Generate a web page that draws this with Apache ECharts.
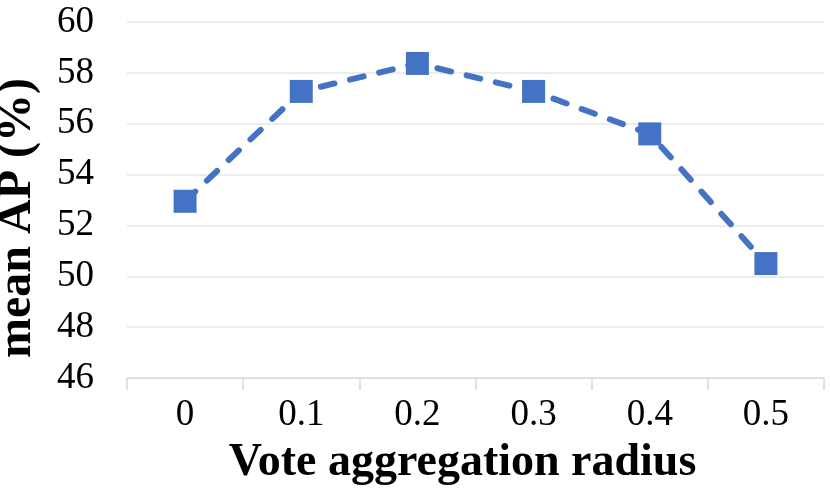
<!DOCTYPE html>
<html>
<head>
<meta charset="utf-8">
<script src="https://cdn.jsdelivr.net/npm/echarts@6/dist/echarts.min.js"></script>
<style>
  html, body { margin: 0; padding: 0; background: #fff; }
  #main { width: 830px; height: 495px; }
</style>
</head>
<body>
<div id="main"></div>
<script>
var myChart = echarts.init(document.getElementById('main'));

let radius = ["0", "0.1", "0.2", "0.3", "0.4", "0.5"];
let meanAP = [52.95, 57.27, 58.37, 57.27, 55.6, 50.5];
let yMin = 46;
let yMax = 60;
let yStep = 2;

let font = "'Liberation Serif', 'Times New Roman', serif";

option = {
	animation: false,
	grid: {
		left: 127,
		right: 6,
		top: 22,
		bottom: 117,
		outerBoundsMode: "none"
	},
	xAxis: {
		type: "category",
		data: radius,
		boundaryGap: true,
		name: "Vote aggregation radius",
		nameLocation: "middle",
		nameGap: 62,
		nameTextStyle: {
			fontFamily: font,
			fontSize: 46,
			fontWeight: "bold",
			color: "#000",
			padding: [0, 26, 0, 0]
		},
		axisLine: {
			lineStyle: { color: "#D9D9D9", width: 1.5 }
		},
		axisTick: {
			show: true,
			length: 12,
			lineStyle: { color: "#D9D9D9", width: 1.5 }
		},
		axisLabel: {
			fontFamily: font,
			fontSize: 37,
			color: "#000",
			margin: 19
		}
	},
	yAxis: {
		type: "value",
		min: yMin,
		max: yMax,
		interval: yStep,
		name: "mean AP (%)",
		nameLocation: "middle",
		nameGap: 85,
		nameTextStyle: {
			fontFamily: font,
			fontSize: 48,
			fontWeight: "bold",
			color: "#000",
			padding: [0, 36, 0, 0]
		},
		axisLine: { show: false },
		axisTick: { show: false },
		axisLabel: {
			fontFamily: font,
			fontSize: 37,
			color: "#000",
			margin: 33
		},
		splitLine: {
			lineStyle: { color: "#E6E6E6", width: 1.5 }
		}
	},
	series: [{
		type: "line",
		data: meanAP,
		symbol: "rect",
		symbolSize: 23,
		itemStyle: { color: "#4472C4" },
		lineStyle: {
			color: "#4472C4",
			width: 6,
			type: [14, 16],
			cap: "round"
		}
	}]
};
myChart.setOption(option);
</script>
</body>
</html>
